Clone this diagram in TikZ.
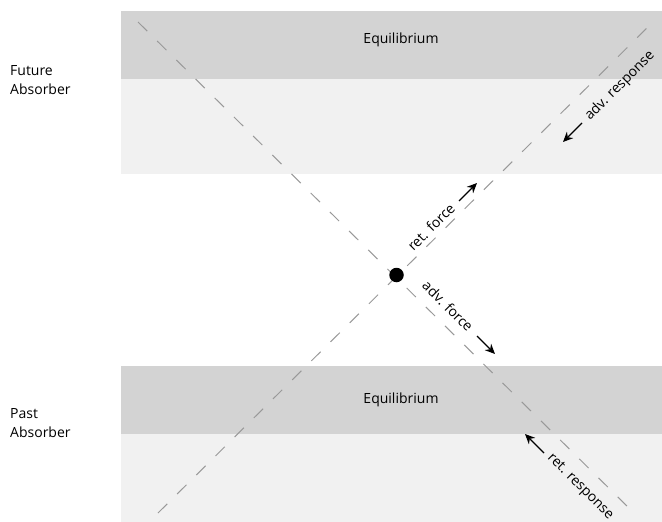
\documentclass[tikz,border=0pt]{standalone}
\usepackage{fontspec}
\setmainfont{Open Sans}
\usetikzlibrary{arrows.meta}
\definecolor{banddark}{HTML}{D3D3D3}
\definecolor{bandlight}{HTML}{F1F1F1}
\definecolor{lineg}{HTML}{999999}
\begin{document}
\begin{tikzpicture}[x=1pt,y=-1pt,
  axisline/.style={draw=lineg, line width=1pt, dash pattern=on 13pt off 14pt},
  lbl/.style={font=\fontsize{14}{17}\selectfont, inner sep=0pt},
  side/.style={font=\fontsize{14}{19}\selectfont, inner sep=0pt, align=left, anchor=west},
  arr/.style={-{Stealth[length=10pt,width=9pt]}, line width=1.3pt}]
\useasboundingbox (0,0) rectangle (662,522);
% bands
\fill[banddark] (121,11) rectangle (662,79);
\fill[bandlight] (121,79) rectangle (662,174);
\fill[banddark] (121,366) rectangle (662,434);
\fill[bandlight] (121,434) rectangle (662,522);
% band texts
\node[lbl] (eqtop) at (401,40) {Equilibrium};
\node[lbl] (eqbot) at (401,400) {Equilibrium};
\node[side] (future) at (10,80) {Future\\Absorber};
\node[side] (past) at (10,423) {Past\\Absorber};
% diagonals
\coordinate (l1a) at (138,22);
\coordinate (l1b) at (634,513);
\coordinate (l2a) at (158,513);
\coordinate (l2b) at (653,22);
\draw[axisline] (l1a) -- (l1b);
\draw[axisline] (l2a) -- (l2b);
% event
\node[circle, fill=black, inner sep=0pt, minimum size=14.5pt] (event) at (396.5,275) {};
% labels and arrows
\node[lbl, rotate=45] (retforce) at (431,227) {ret. force};
\coordinate (rf1) at (459,201); \coordinate (rf2) at (477,183);
\draw[arr] (rf1) -- (rf2);
\node[lbl, rotate=-45] (advforce) at (448,306) {adv. force};
\coordinate (af1) at (477,336); \coordinate (af2) at (495,354);
\draw[arr] (af1) -- (af2);
\node[lbl, rotate=45] (advresp) at (620,86) {adv. response};
\coordinate (ar1) at (582,123); \coordinate (ar2) at (563,142);
\draw[arr] (ar1) -- (ar2);
\node[lbl, rotate=-45] (retresp) at (580,487) {ret. response};
\coordinate (rr1) at (544,453); \coordinate (rr2) at (525,434);
\draw[arr] (rr1) -- (rr2);
\end{tikzpicture}
\end{document}
